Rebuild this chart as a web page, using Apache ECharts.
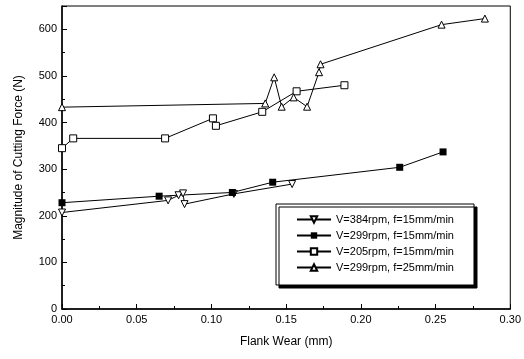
<!DOCTYPE html>
<html><head><meta charset="utf-8">
<script src="https://cdn.jsdelivr.net/npm/echarts@6/dist/echarts.min.js"></script>
<style>html,body{margin:0;padding:0;background:#fff}#c{width:524px;height:359px}</style>
</head><body><div id="c"></div>
<script>
const seriesNames = ["V=384rpm, f=15mm/min", "V=299rpm, f=15mm/min", "V=205rpm, f=15mm/min", "V=299rpm, f=25mm/min"];
const wear384 = [0.000, 0.071, 0.078, 0.081, 0.082, 0.115, 0.154];
const force384 = [207, 233, 244, 248, 225, 247, 268];
const wear299 = [0.000, 0.065, 0.114, 0.141, 0.226, 0.255];
const force299 = [228, 242, 250, 272, 304, 337];
const wear205 = [0.000, 0.0075, 0.069, 0.101, 0.103, 0.134, 0.157, 0.189];
const force205 = [345, 366, 366, 409, 393, 423, 467, 480];
const wear299f25 = [0.000, 0.136, 0.142, 0.147, 0.155, 0.164, 0.172, 0.173, 0.254, 0.283];
const force299f25 = [433, 441, 497, 434, 454, 434, 508, 525, 610, 623];

const zip = (a, b) => a.map((v, i) => [v, b[i]]);
const font = 'Liberation Sans, Arial, sans-serif';
const hollow = {color: '#fff', borderColor: '#000', borderWidth: 1};
const mk = (name, data, symbol, rot, item) => ({
  name, type: 'line', data, symbol, symbolSize: 7, symbolRotate: rot,
  lineStyle: {color: '#000', width: 1}, itemStyle: item,
  emphasis: {disabled: true}, animation: false, z: 3
});
const chart = echarts.init(document.getElementById('c'));
chart.setOption({
  animation: false,
  backgroundColor: '#fff',
  grid: {left: 62, right: 13, top: 6, bottom: 50, show: true, borderColor: '#000', borderWidth: 1, backgroundColor: 'transparent'},
  xAxis: {
    type: 'value', min: 0, max: 0.30, interval: 0.05,
    name: 'Flank Wear (mm)', nameLocation: 'middle', nameGap: 27,
    nameTextStyle: {fontFamily: font, fontSize: 12, color: '#000'},
    axisLine: {show: true, lineStyle: {color: '#000', width: 1.5}},
    axisTick: {show: true, inside: true, length: 5, lineStyle: {color: '#000'}},
    minorTick: {show: true, splitNumber: 2, length: 3, lineStyle: {color: '#000'}},
    splitLine: {show: false},
    axisLabel: {fontFamily: font, fontSize: 11, color: '#000', margin: 5, formatter: v => v.toFixed(2)}
  },
  yAxis: {
    type: 'value', min: 0, max: 650, interval: 100,
    name: 'Magnitude of Cutting Force (N)', nameLocation: 'middle', nameGap: 37,
    nameTextStyle: {fontFamily: font, fontSize: 12, color: '#000'},
    axisLine: {show: true, lineStyle: {color: '#000', width: 1.5}},
    axisTick: {show: true, inside: true, length: 5, lineStyle: {color: '#000'}},
    minorTick: {show: true, splitNumber: 2, length: 3, lineStyle: {color: '#000'}},
    splitLine: {show: false},
    axisLabel: {fontFamily: font, fontSize: 11, color: '#000', margin: 5, showMaxLabel: false}
  },
  legend: {
    orient: 'vertical', left: 276, top: 204, itemWidth: 34, itemHeight: 8, itemGap: 5,
    padding: [10, 20, 12, 20],
    backgroundColor: '#fff', borderColor: '#000', borderWidth: 1,
    shadowColor: '#000', shadowBlur: 0, shadowOffsetX: 3, shadowOffsetY: 3,
    textStyle: {fontFamily: font, fontSize: 11, color: '#000'},
    data: seriesNames
  },
  series: [
    mk(seriesNames[0], zip(wear384, force384), 'triangle', 180, hollow),
    mk(seriesNames[1], zip(wear299, force299), 'rect', 0, {color: '#000'}),
    mk(seriesNames[2], zip(wear205, force205), 'rect', 0, hollow),
    mk(seriesNames[3], zip(wear299f25, force299f25), 'triangle', 0, hollow)
  ]
});
</script></body></html>
